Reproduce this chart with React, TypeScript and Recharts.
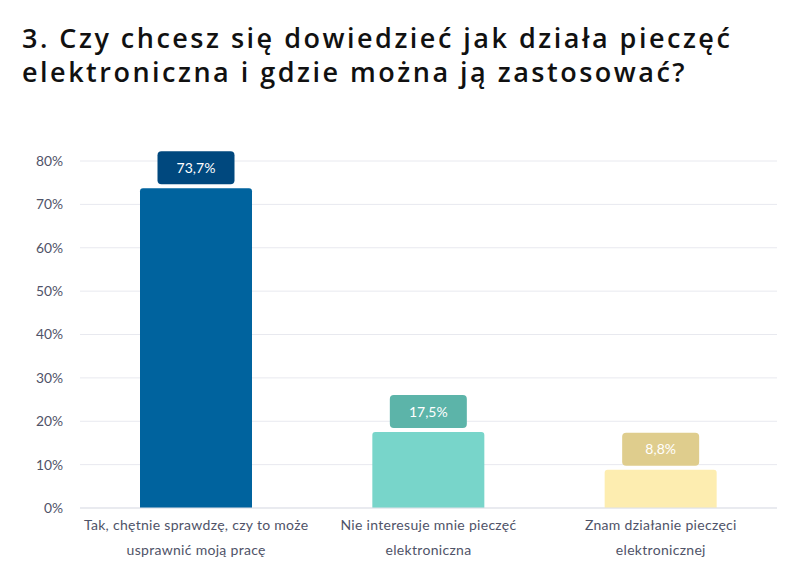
import { BarChart, Bar, XAxis, YAxis, CartesianGrid, Cell, LabelList } from 'recharts';

const title = ['3. Czy chcesz się dowiedzieć jak działa pieczęć', 'elektroniczna i gdzie można ją zastosować?'];
const categories = [
  'Tak, chętnie sprawdzę, czy to może\nusprawnić moją pracę',
  'Nie interesuje mnie pieczęć\nelektroniczna',
  'Znam działanie pieczęci\nelektronicznej',
];
const values = [73.7, 17.5, 8.8];
const yTicks = [0, 10, 20, 30, 40, 50, 60, 70, 80];
const barColors = ['#00639e', '#78d5ca', '#fdedb0'];
const labelColors = ['#00487e', '#5cb4a9', '#dfcd8d'];

const FONT = 'Lato, "Noto Sans", sans-serif';

const data = categories.map((c, i) => ({ name: c, value: values[i], idx: i }));

function CategoryTick(props: any) {
  const { x, y, payload } = props;
  const lines = String(payload.value).split('\n');
  return (
    <text
      x={x}
      y={y}
      textAnchor="middle"
      fill="#4f5368"
      fontSize={14}
      fontFamily={FONT}
      style={{ letterSpacing: 0.3 }}
    >
      {lines.map((l, i) => (
        <tspan key={i} x={x} dy={i === 0 ? 14 : 25}>{l}</tspan>
      ))}
    </text>
  );
}

function ValueLabel(props: any) {
  const { x, y, width, value, index } = props;
  const w = 77;
  const h = 33;
  const cx = x + width / 2;
  const top = y - 4 - h;
  return (
    <g>
      <rect x={cx - w / 2} y={top} width={w} height={h} rx={4} fill={labelColors[index]} />
      <text x={cx} y={top + h / 2 + 5} textAnchor="middle" fill="#ffffff" fontSize={14} fontFamily={FONT}>
        {String(value).replace('.', ',') + '%'}
      </text>
    </g>
  );
}

export default function App() {
  return (
    <div style={{ position: 'absolute', left: 0, top: 0, width: 789, height: 584, background: '#fff' }}>
      <div
        style={{
          position: 'absolute',
          left: 22,
          top: 21,
          fontFamily: '"Open Sans", sans-serif',
          fontWeight: 600,
          fontSize: 27,
          lineHeight: '34px',
          letterSpacing: 2.5,
          color: '#111111',
          whiteSpace: 'nowrap',
        }}
      >
        {title.map((t, i) => (
          <div key={i}>{t}</div>
        ))}
      </div>
      <BarChart width={789} height={584} data={data} margin={{ top: 161, right: 12, bottom: 46, left: 0 }}>
        <CartesianGrid vertical={false} stroke="#e8e9ef" />
        <XAxis
          dataKey="name"
          interval={0}
          tickLine={false}
          axisLine={{ stroke: '#dfe1e8' }}
          tick={<CategoryTick />}
        />
        <YAxis
          width={80}
          domain={[0, 80]}
          ticks={yTicks}
          tickFormatter={(v) => `${v}%`}
          axisLine={false}
          tickLine={false}
          tickSize={0}
          tickMargin={17}
          tick={{ fill: '#4f5368', fontSize: 13.8, fontFamily: FONT }}
        />
        <Bar dataKey="value" barSize={112} radius={[3, 3, 0, 0]} isAnimationActive={false}>
          {data.map((d, i) => (
            <Cell key={i} fill={barColors[i]} />
          ))}
          <LabelList dataKey="value" content={<ValueLabel />} />
        </Bar>
      </BarChart>
    </div>
  );
}
